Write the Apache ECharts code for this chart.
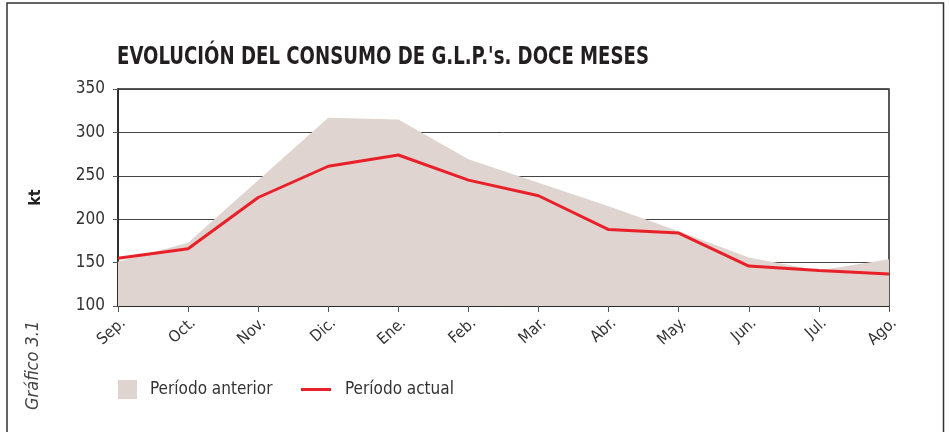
<!DOCTYPE html>
<html>
<head>
<meta charset="utf-8">
<script src="https://cdn.jsdelivr.net/npm/echarts@6/dist/echarts.min.js"></script>
<style>
  html, body { margin: 0; padding: 0; background: #fff; }
  #chart { width: 950px; height: 432px; }
</style>
</head>
<body>
<div id="chart"></div>
<script>
var months = ['Sep.', 'Oct.', 'Nov.', 'Dic.', 'Ene.', 'Feb.', 'Mar.', 'Abr.', 'May.', 'Jun.', 'Jul.', 'Ago.'];
var anterior = [151, 173, 245, 317, 315, 269, 242, 215, 186, 156, 141, 154];
var actual = [155, 166, 225, 261, 274, 245, 227, 188, 184, 146, 141, 137];
var yTicks = { min: 100, max: 350, interval: 50 };

var font = '"DejaVu Sans Condensed", "Liberation Sans", sans-serif';
var areaColor = '#dfd4cf';
var lineColor = '#e8202a';

var myChart = echarts.init(document.getElementById('chart'));
myChart.setOption({
    animation: false,
    legend: [
        {
            data: [{ name: 'Período anterior', icon: 'rect', itemStyle: { color: areaColor } }],
            left: 118,
            top: 380,
            padding: 0,
            itemWidth: 19,
            itemHeight: 19,
            textStyle: { fontFamily: font, fontSize: 17, color: '#333', padding: [0, 0, 0, 8] }
        },
        {
            data: [{ name: 'Período actual', icon: 'rect', itemStyle: { color: lineColor } }],
            left: 301,
            top: 381,
            padding: 0,
            itemWidth: 30,
            itemHeight: 3,
            textStyle: { fontFamily: font, fontSize: 17, color: '#333', padding: [0, 0, 0, 9] }
        }
    ],
    grid: {
        left: 118,
        right: 61,
        top: 89,
        bottom: 126,
        show: true,
        borderColor: '#222',
        borderWidth: 1.5,
        backgroundColor: 'transparent'
    },
    xAxis: {
        type: 'category',
        data: months,
        boundaryGap: false,
        axisLine: { lineStyle: { color: '#222', width: 1.5 } },
        axisTick: { show: true, length: 6, lineStyle: { color: '#555' } },
        axisLabel: {
            rotate: 42,
            margin: 9,
            verticalAlign: 'top',
            fontFamily: font,
            fontSize: 16,
            color: '#333'
        },
        splitLine: { show: false }
    },
    yAxis: {
        type: 'value',
        min: yTicks.min,
        max: yTicks.max,
        interval: yTicks.interval,
        name: 'kt',
        nameLocation: 'middle',
        nameGap: 74,
        nameRotate: 90,
        nameTextStyle: { fontFamily: font, fontWeight: 'bold', fontSize: 16, color: '#222' },
        axisLine: { show: true, lineStyle: { color: '#222', width: 1.5 } },
        axisTick: { show: true, length: 5, lineStyle: { color: '#555' } },
        axisLabel: { margin: 13, fontFamily: font, fontSize: 17, color: '#333' },
        splitLine: { show: true, lineStyle: { color: '#444', width: 1 } }
    },
    graphic: [
        {
            type: 'rect',
            shape: { x: 7, y: 3, width: 936.5, height: 460 },
            style: { fill: 'none', stroke: '#333', lineWidth: 1.5 },
            silent: true
        },
        {
            type: 'text',
            x: 117,
            y: 57,
            scaleX: 0.806,
            style: {
                text: "EVOLUCIÓN DEL CONSUMO DE G.L.P.'s. DOCE MESES",
                fontFamily: font,
                fontWeight: 'bold',
                fontSize: 25,
                fill: '#231f20',
                align: 'left',
                verticalAlign: 'middle'
            }
        },
        {
            type: 'text',
            x: 24,
            y: 410,
            rotation: Math.PI / 2,
            style: {
                text: 'Gráfico 3.1',
                fontFamily: font,
                fontStyle: 'italic',
                fontSize: 18,
                fill: '#444'
            }
        }
    ],
    series: [
        {
            name: 'Período anterior',
            type: 'line',
            data: anterior,
            symbol: 'none',
            lineStyle: { width: 0, color: areaColor },
            itemStyle: { color: areaColor },
            areaStyle: { color: areaColor, opacity: 1, origin: 'start' },
            z: 2
        },
        {
            name: 'Período actual',
            type: 'line',
            data: actual,
            symbol: 'none',
            lineStyle: { width: 3, color: lineColor },
            itemStyle: { color: lineColor },
            z: 3
        }
    ]
});
</script>
</body>
</html>
